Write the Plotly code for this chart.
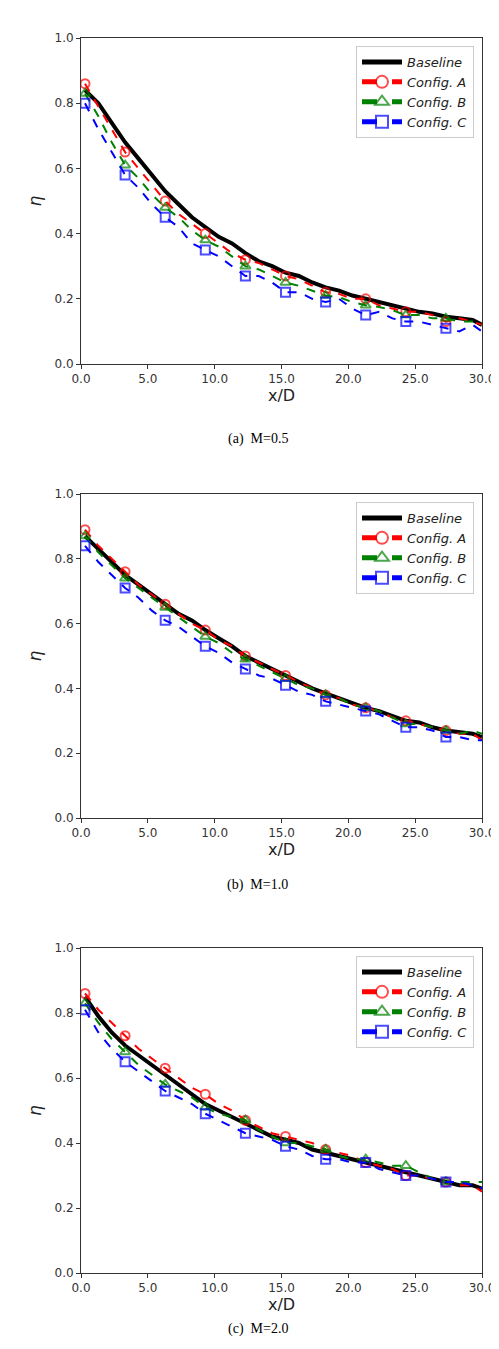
import plotly.graph_objects as go

x = [0.3 + i for i in range(30)] + [30.0]
marker_idx = list(range(0, 30, 3))

a_base = [0.84,0.80,0.74,0.68,0.63,0.58,0.53,0.49,0.45,0.42,0.39,0.37,0.34,0.315,0.30,0.28,0.27,0.25,0.235,0.225,0.21,0.20,0.19,0.18,0.17,0.16,0.155,0.145,0.14,0.135,0.12]
a_A = [0.86,0.79,0.72,0.65,0.60,0.55,0.50,0.46,0.43,0.40,0.37,0.34,0.32,0.31,0.29,0.27,0.26,0.24,0.22,0.215,0.20,0.20,0.18,0.17,0.16,0.16,0.15,0.13,0.14,0.13,0.12]
a_B = [0.83,0.76,0.68,0.61,0.57,0.52,0.48,0.45,0.41,0.38,0.36,0.33,0.30,0.29,0.27,0.25,0.24,0.225,0.21,0.205,0.19,0.18,0.175,0.165,0.15,0.15,0.14,0.14,0.13,0.13,0.12]
a_C = [0.80,0.72,0.65,0.58,0.54,0.49,0.45,0.42,0.37,0.35,0.33,0.30,0.27,0.27,0.25,0.22,0.22,0.20,0.19,0.20,0.17,0.15,0.16,0.14,0.13,0.13,0.12,0.11,0.10,0.12,0.10]

b_base = [0.87,0.83,0.79,0.75,0.72,0.69,0.66,0.63,0.61,0.58,0.555,0.53,0.50,0.48,0.46,0.44,0.42,0.40,0.385,0.37,0.355,0.34,0.33,0.315,0.30,0.295,0.28,0.27,0.265,0.26,0.25]
b_A = [0.89,0.84,0.80,0.76,0.72,0.69,0.66,0.63,0.60,0.58,0.55,0.53,0.50,0.48,0.46,0.44,0.42,0.40,0.38,0.37,0.35,0.34,0.33,0.31,0.30,0.29,0.28,0.27,0.26,0.26,0.24]
b_B = [0.87,0.82,0.78,0.74,0.71,0.68,0.65,0.62,0.59,0.56,0.54,0.51,0.49,0.47,0.45,0.43,0.41,0.40,0.38,0.37,0.35,0.34,0.33,0.31,0.29,0.29,0.28,0.27,0.26,0.27,0.26]
b_C = [0.84,0.79,0.75,0.71,0.68,0.64,0.61,0.59,0.56,0.53,0.51,0.48,0.46,0.44,0.43,0.41,0.39,0.38,0.36,0.35,0.34,0.33,0.32,0.30,0.28,0.28,0.27,0.25,0.25,0.24,0.24]

c_base = [0.85,0.79,0.74,0.70,0.67,0.64,0.61,0.58,0.55,0.52,0.50,0.48,0.46,0.44,0.42,0.41,0.40,0.38,0.37,0.36,0.35,0.34,0.33,0.32,0.31,0.30,0.29,0.28,0.27,0.27,0.26]
c_A = [0.86,0.81,0.77,0.73,0.69,0.66,0.63,0.60,0.57,0.55,0.52,0.50,0.47,0.45,0.43,0.42,0.41,0.40,0.38,0.37,0.36,0.34,0.33,0.32,0.30,0.30,0.29,0.28,0.27,0.27,0.25]
c_B = [0.83,0.77,0.72,0.68,0.64,0.61,0.58,0.56,0.54,0.51,0.49,0.48,0.47,0.44,0.42,0.40,0.40,0.39,0.38,0.36,0.35,0.35,0.34,0.33,0.33,0.31,0.29,0.28,0.28,0.28,0.28]
c_C = [0.81,0.74,0.69,0.65,0.62,0.59,0.56,0.54,0.52,0.49,0.47,0.45,0.43,0.42,0.41,0.39,0.38,0.36,0.35,0.35,0.34,0.34,0.32,0.31,0.30,0.30,0.29,0.28,0.28,0.27,0.26]

panels = [(a_base, a_A, a_B, a_C), (b_base, b_A, b_B, b_C), (c_base, c_A, c_B, c_C)]
captions = ["(a)  M=0.5", "(b)  M=1.0", "(c)  M=2.0"]
names = ["<i>Baseline</i>", "<i>Config. A</i>", "<i>Config. B</i>", "<i>Config. C</i>"]
colors = ["black", "red", "green", "blue"]
symbols = [None, "circle-open", "triangle-up-open", "square-open"]
xticks = [0, 5, 10, 15, 20, 25, 30]
yticks = [0, 0.2, 0.4, 0.6, 0.8, 1.0]

H = 1349.0
W = 499.0
ML, MR, MT, MB = 60, 20, 15, 5
PW = W - ML - MR
PH = H - MT - MB
def fx(px):
    return (px - ML) / PW
def fy(py):
    return 1 - (py - MT) / PH

tops = [30, 486, 940]
bots = [356, 810, 1265]
cap_y = [421, 877, 1331]

fig = go.Figure()
sizes = [9 if i in marker_idx else 0 for i in range(len(x))]
for p, series in enumerate(panels):
    xa = "x" if p == 0 else f"x{p+1}"
    ya = "y" if p == 0 else f"y{p+1}"
    lg = "legend" if p == 0 else f"legend{p+1}"
    for k, ys in enumerate(series):
        if k == 0:
            fig.add_trace(go.Scatter(x=x, y=ys, mode="lines", name=names[k],
                                     line=dict(color="black", width=4),
                                     xaxis=xa, yaxis=ya, legend=lg))
        else:
            fig.add_trace(go.Scatter(x=x, y=ys, mode="lines+markers", name=names[k],
                                     line=dict(color=colors[k], width=2, dash="dash"),
                                     marker=dict(symbol=symbols[k], size=sizes, color=colors[k],
                                                 line=dict(width=2, color=colors[k])),
                                     xaxis=xa, yaxis=ya, legend=lg))
    axcommon = dict(showline=True, linecolor="#333", mirror=True, ticks="outside",
                    ticklen=4, tickcolor="#333", showgrid=False, zeroline=False, automargin=False,
                    tickfont=dict(family="DejaVu Sans", size=12, color="#333"))
    fig.layout[("xaxis" if p == 0 else f"xaxis{p+1}")] = dict(
        domain=[fx(73), fx(474)], range=[0, 30], anchor=ya, tickvals=xticks,
        ticktext=[f"{v:.1f}" for v in xticks],
        title=dict(text="x/D", font=dict(family="DejaVu Sans", size=16, color="#222"), standoff=2),
        **axcommon)
    fig.layout[("yaxis" if p == 0 else f"yaxis{p+1}")] = dict(
        domain=[fy(bots[p]), fy(tops[p])], range=[0, 1], anchor=xa, tickvals=yticks,
        ticktext=[f"{v:.1f}" for v in yticks],
        title=dict(text="<i>η</i>", font=dict(family="DejaVu Sans", size=17, color="#222"), standoff=8),
        **axcommon)
    fig.layout[lg] = dict(x=fx(466), xanchor="right", y=fy(tops[p] + 8), yanchor="top",
                          bgcolor="white", bordercolor="#ccc", borderwidth=1,
                          font=dict(family="DejaVu Sans", size=13, color="#222"),
                          itemsizing="constant", itemwidth=40, tracegroupgap=2)
    fig.add_annotation(text=captions[p], x=0.5 * (fx(0) + fx(W)), y=fy(cap_y[p]),
                       xref="paper", yref="paper", showarrow=False,
                       font=dict(family="Liberation Serif", size=14, color="black"))

fig.update_layout(width=499, height=1349, margin=dict(l=ML, r=MR, t=MT, b=MB, autoexpand=False),
                  plot_bgcolor="white", paper_bgcolor="white", showlegend=True)
fig.write_html("out.html")
